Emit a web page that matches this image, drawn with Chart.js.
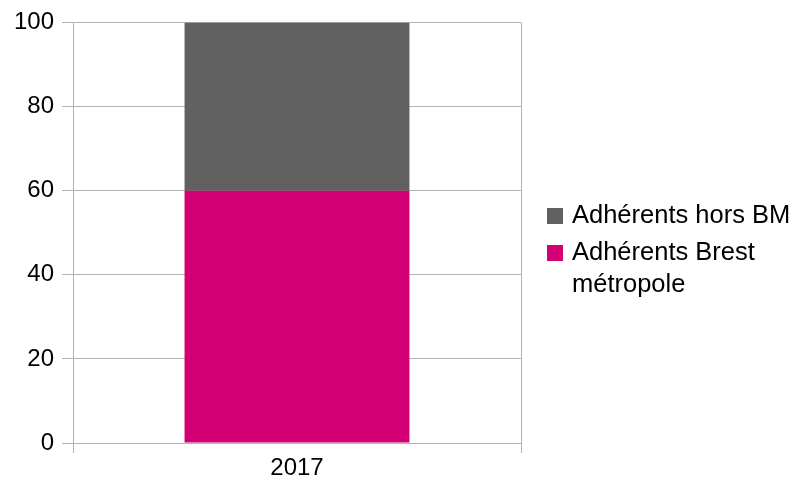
<!DOCTYPE html>
<html>
<head>
<meta charset="utf-8">
<script src="https://cdn.jsdelivr.net/npm/chart.js@4"></script>
<style>
    html, body { margin: 0; padding: 0; background: #fff; }
    #wrap { width: 796px; height: 488px; }
</style>
</head>
<body>
<div id="wrap"><canvas id="chart" width="796" height="488"></canvas></div>
<script>
// Données
const categories = ['2017'];
const brestMetropole = [60];
const horsBM = [40];
const yTicks = [0, 20, 40, 60, 80, 100];

const FONT = '"Liberation Sans", Arial, sans-serif';

// Légende dessinée à droite (texte sur plusieurs lignes)
const sideLegend = {
    id: 'sideLegend',
    afterDraw(chart) {
        const ctx = chart.ctx;
        const items = [
            { color: chart.data.datasets[1].backgroundColor, lines: ['Adhérents hors BM'] },
            { color: chart.data.datasets[0].backgroundColor, lines: ['Adhérents Brest', 'métropole'] }
        ];
        let y = 216;
        ctx.save();
        ctx.font = '25.5px ' + FONT;
        ctx.textBaseline = 'middle';
        items.forEach(item => {
            ctx.fillStyle = item.color;
            ctx.fillRect(547, y - 8, 16, 16);
            ctx.fillStyle = '#000';
            item.lines.forEach((line, i) => {
                ctx.fillText(line, 572, y + i * 32);
            });
            y += item.lines.length * 32 + 5;
        });
        ctx.restore();
    }
};

new Chart(document.getElementById('chart'), {
    type: 'bar',
    data: {
        labels: categories,
        datasets: [
            {
                label: 'Adhérents Brest métropole',
                data: brestMetropole,
                backgroundColor: '#d10074',
                borderWidth: 0
            },
            {
                label: 'Adhérents hors BM',
                data: horsBM,
                backgroundColor: '#606060',
                borderWidth: 0
            }
        ]
    },
    options: {
        responsive: false,
        animation: false,
        devicePixelRatio: 1,
        layout: { padding: { top: 22, right: 275, left: 0, bottom: 0 } },
        datasets: {
            bar: { categoryPercentage: 1, barPercentage: 0.502 }
        },
        plugins: {
            legend: { display: false },
            tooltip: { enabled: false }
        },
        scales: {
            x: {
                stacked: true,
                afterFit: (s) => { s.height = 45; },
                grid: { color: '#b3b3b3', lineWidth: 1, tickLength: 10, offset: true },
                border: { color: '#b3b3b3' },
                ticks: { color: '#000', font: { family: FONT, size: 24 }, padding: 1 }
            },
            y: {
                stacked: true,
                min: 0,
                max: 100,
                afterFit: (s) => { s.width = 73; },
                afterBuildTicks: (s) => { s.ticks = yTicks.map(v => ({ value: v })); },
                grid: { color: '#b3b3b3', lineWidth: 1, tickLength: 11 },
                border: { color: '#b3b3b3' },
                ticks: { color: '#000', font: { family: FONT, size: 24 }, padding: 8 }
            }
        }
    },
    plugins: [sideLegend]
});
</script>
</body>
</html>
